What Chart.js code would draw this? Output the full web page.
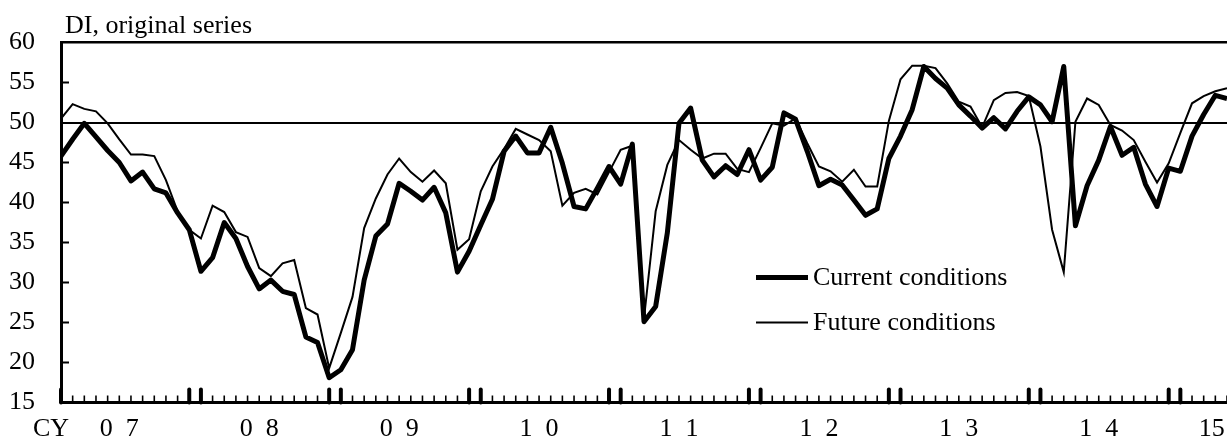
<!DOCTYPE html>
<html>
<head>
<meta charset="utf-8">
<script src="https://cdn.jsdelivr.net/npm/chart.js@4"></script>
<style>
  html, body { margin: 0; padding: 0; background: #fff; }
  #wrap { width: 1227px; height: 441px; overflow: hidden; }
</style>
</head>
<body>
<div id="wrap"><canvas id="c" width="1227" height="441"></canvas></div>
<script>
// Monthly categories: Jan 2007 .. May 2015
const months = [];
for (let y = 2007; y <= 2015; y++) {
  for (let m = 1; m <= 12; m++) {
    if (months.length < 101) months.push(y + '-' + String(m).padStart(2, '0'));
  }
}

// Current conditions DI (original series)
const current = [
  45.8, 47.9, 49.9, 48.2, 46.5, 45.0, 42.7, 43.8, 41.7, 41.2, 38.7, 36.6,
  31.4, 33.1, 37.5, 35.5, 32.0, 29.2, 30.3, 28.9, 28.5, 23.2, 22.5, 18.1,
  19.1, 21.6, 30.3, 35.8, 37.3, 42.4, 41.4, 40.3, 41.9, 38.7, 31.3, 33.9,
  37.2, 40.4, 46.4, 48.3, 46.2, 46.2, 49.4, 44.9, 39.5, 39.2, 41.8, 44.5,
  42.3, 47.3, 25.1, 27.0, 36.2, 49.9, 51.8, 45.3, 43.2, 44.6, 43.5, 46.6,
  42.8, 44.4, 51.2, 50.4, 46.4, 42.1, 42.9, 42.2, 40.3, 38.4, 39.2, 45.5,
  48.3, 51.6, 57.0, 55.5, 54.3, 52.2, 50.8, 49.3, 50.6, 49.2, 51.4, 53.2,
  52.2, 50.1, 57.0, 37.1, 42.1, 45.3, 49.5, 45.9, 46.9, 42.3, 39.5, 44.3,
  43.9, 48.3, 51.0, 53.4, 53.0
];

// Future conditions DI (original series)
const future = [
  50.5, 52.3, 51.7, 51.4, 49.9, 47.9, 46.0, 46.0, 45.8, 42.8, 38.9, 36.6,
  35.5, 39.6, 38.8, 36.3, 35.7, 31.8, 30.8, 32.4, 32.8, 26.8, 26.0, 19.3,
  23.7, 28.2, 36.8, 40.5, 43.5, 45.5, 43.8, 42.6, 44.0, 42.4, 34.1, 35.4,
  41.4, 44.5, 46.7, 49.2, 48.5, 47.8, 46.4, 39.6, 41.2, 41.7, 41.0, 43.8,
  46.6, 47.1, 25.5, 38.9, 44.7, 47.8, 46.6, 45.5, 46.1, 46.1, 44.2, 43.8,
  46.8, 49.9, 49.6, 50.5, 47.4, 44.5, 43.9, 42.6, 44.1, 42.0, 42.0, 50.2,
  55.4, 57.1, 57.1, 56.8, 54.9, 52.6, 52.0, 49.4, 52.8, 53.7, 53.8, 53.3,
  47.0, 36.6, 31.3, 50.1, 53.0, 52.2, 49.7, 49.0, 47.8, 45.1, 42.5, 44.9,
  48.7, 52.4, 53.3, 53.9, 54.3
];

// Axis tick labels
const yTickValues = [15, 20, 25, 30, 35, 40, 45, 50, 55, 60];
const xYearLabels = ['CY', '0\u20027', '0\u20028', '0\u20029', '1\u20020', '1\u20021', '1\u20022', '1\u20023', '1\u20024', '15'];
const seriesNames = ['Current conditions', 'Future conditions'];
const titleText = 'DI, original series';

const FONT = "'Liberation Serif', 'Times New Roman', serif";
const FS = 26;

// where each year label sits, in month-index units (mid-year; first/last adjusted as in the original)
const xLabelAt = xYearLabels.map((s, k) => {
  if (k === 0) return -0.85;
  if (k === xYearLabels.length - 1) return 98.7;
  return 5 + 12 * (k - 1);
});

const decorPlugin = {
  id: 'decor',
  afterDatasetsDraw(chart) {
    const { ctx, chartArea } = chart;
    const xs = chart.scales.x, ys = chart.scales.y;
    ctx.save();
    ctx.strokeStyle = '#000';
    // monthly ticks pointing into the plot
    for (let i = 0; i < months.length; i++) {
      const x = xs.getPixelForValue(i);
      if (x > chartArea.right + 1) continue;
      const mm = i % 12;
      const major = (mm === 0 || mm === 11);
      ctx.beginPath();
      if (major) {
        ctx.lineWidth = 4;
        ctx.lineCap = 'round';
        ctx.moveTo(x, chartArea.bottom);
        ctx.lineTo(x, chartArea.bottom - 13);
      } else {
        ctx.lineWidth = 1.6;
        ctx.lineCap = 'butt';
        ctx.moveTo(x, chartArea.bottom);
        ctx.lineTo(x, chartArea.bottom - 7);
      }
      ctx.stroke();
    }
    // y ticks pointing into the plot
    ctx.lineCap = 'butt';
    ctx.lineWidth = 2;
    yTickValues.forEach(v => {
      if (v <= 15 || v >= 60 || v === 50) return;
      const y = ys.getPixelForValue(v);
      ctx.beginPath();
      ctx.moveTo(chartArea.left, y);
      ctx.lineTo(chartArea.left + 8, y);
      ctx.stroke();
    });
    ctx.restore();
  },
  afterDraw(chart) {
    const { ctx } = chart;
    ctx.save();
    ctx.fillStyle = '#000';
    ctx.font = FS + 'px ' + FONT;
    ctx.textBaseline = 'alphabetic';
    ctx.textAlign = 'left';
    ctx.fillText(titleText, 65, 33);
    // legend
    const items = [
      { name: seriesNames[0], w: 5, y: 277.5 },
      { name: seriesNames[1], w: 2, y: 322.5 }
    ];
    items.forEach(it => {
      ctx.strokeStyle = '#000';
      ctx.lineWidth = it.w;
      ctx.lineCap = 'butt';
      ctx.beginPath();
      ctx.moveTo(756, it.y);
      ctx.lineTo(808, it.y);
      ctx.stroke();
      ctx.textBaseline = 'middle';
      ctx.fillText(it.name, 813, it.y + 1);
    });
    ctx.restore();
  }
};

new Chart(document.getElementById('c'), {
  type: 'line',
  data: {
    datasets: [
      {
        label: seriesNames[0],
        data: current.map((v, i) => ({ x: i, y: v })),
        borderColor: '#000',
        borderWidth: 5,
        borderJoinStyle: 'round',
        pointRadius: 0,
        tension: 0,
        order: 1
      },
      {
        label: seriesNames[1],
        data: future.map((v, i) => ({ x: i, y: v })),
        borderColor: '#000',
        borderWidth: 2,
        borderJoinStyle: 'miter',
        pointRadius: 0,
        tension: 0,
        order: 0
      }
    ]
  },
  options: {
    responsive: false,
    animation: false,
    devicePixelRatio: 1,
    layout: { padding: { top: 42.5, right: 0, bottom: 0, left: 0 } },
    plugins: {
      legend: { display: false },
      tooltip: { enabled: false },
      title: { display: false }
    },
    scales: {
      x: {
        type: 'linear',
        min: 0,
        max: 100,
        afterBuildTicks: (scale) => {
          scale.ticks = xLabelAt.map(v => ({ value: v }));
        },
        afterFit: (scale) => {
          scale.height = 38.5;
          scale.paddingLeft = 0;
          scale.paddingRight = 0;
        },
        ticks: {
          autoSkip: false,
          maxRotation: 0,
          minRotation: 0,
          padding: 11,
          color: '#000',
          font: { family: FONT, size: FS },
          callback: (v, idx) => xYearLabels[idx]
        },
        grid: { display: false, drawTicks: false, tickLength: 0 },
        border: { display: true, color: '#000', width: 3 }
      },
      y: {
        type: 'linear',
        min: 15,
        max: 60,
        afterBuildTicks: (scale) => {
          scale.ticks = yTickValues.map(v => ({ value: v }));
        },
        afterFit: (scale) => {
          scale.width = 61;
          scale.paddingTop = 0;
          scale.paddingBottom = 0;
        },
        ticks: {
          padding: 26,
          color: '#000',
          font: { family: FONT, size: FS },
          callback: (v) => String(v)
        },
        grid: {
          drawTicks: false,
          tickLength: 0,
          color: (ctx) => (ctx.tick && (ctx.tick.value === 50 || ctx.tick.value === 60)) ? '#000' : 'rgba(0,0,0,0)',
          lineWidth: (ctx) => (ctx.tick && ctx.tick.value === 60) ? 2.5 : 2
        },
        border: { display: true, color: '#000', width: 3 }
      }
    }
  },
  plugins: [decorPlugin]
});
</script>
</body>
</html>
